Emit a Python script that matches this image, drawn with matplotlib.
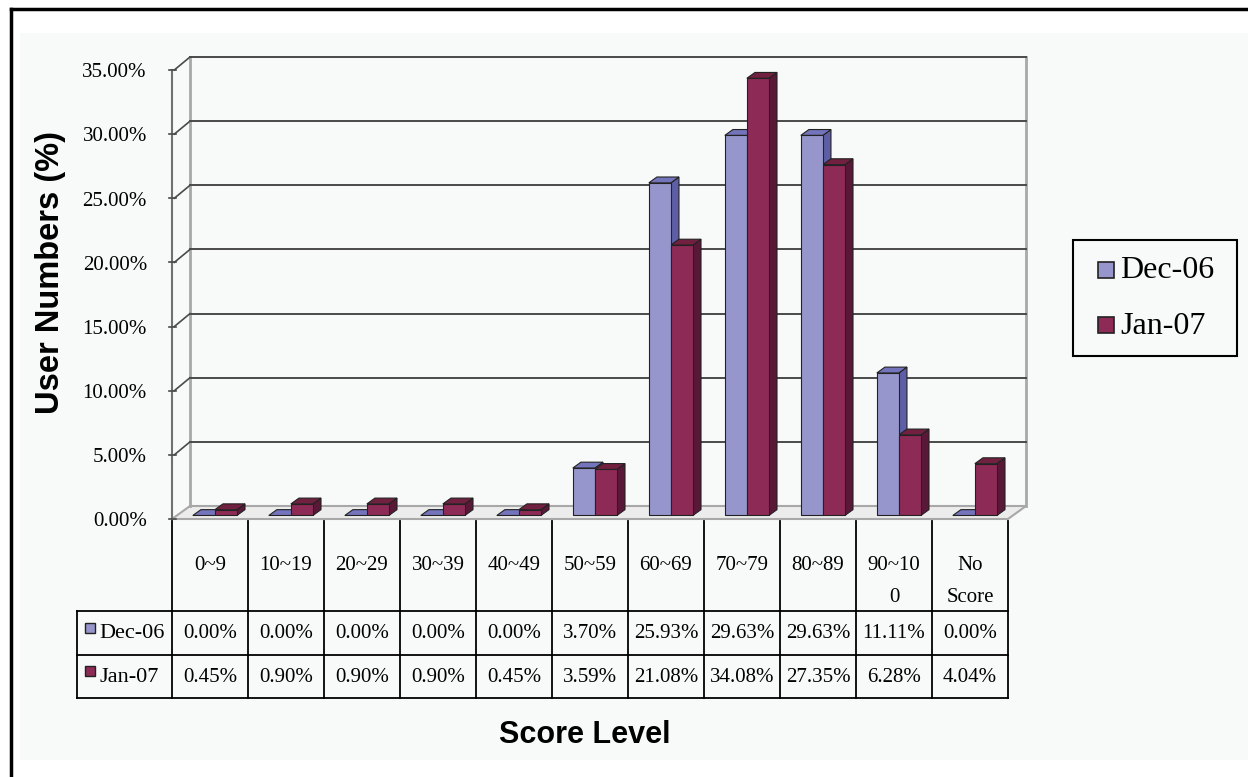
import matplotlib
matplotlib.use("Agg")
import matplotlib.pyplot as plt
from matplotlib.patches import Polygon, Rectangle
from matplotlib.lines import Line2D
from matplotlib.transforms import blended_transform_factory

# data
categories = ["0~9", "10~19", "20~29", "30~39", "40~49", "50~59",
              "60~69", "70~79", "80~89", "90~10\n0", "No\nScore"]
series_names = ["Dec-06", "Jan-07"]
dec06 = [0.00, 0.00, 0.00, 0.00, 0.00, 3.70, 25.93, 29.63, 29.63, 11.11, 0.00]
jan07 = [0.45, 0.90, 0.90, 0.90, 0.45, 3.59, 21.08, 34.08, 27.35, 6.28, 4.04]
yticks = [0, 5, 10, 15, 20, 25, 30, 35]

W, H = 1248, 777
fig = plt.figure(figsize=(W / 100, H / 100), dpi=100)
fig.patch.set_facecolor("white")


def fx(px):
    return px / W


def fy(py):
    return 1 - py / H


# backgrounds and outer border
fig.add_artist(Rectangle((fx(20), fy(760)), fx(1248) - fx(20), fy(33) - fy(760),
                         transform=fig.transFigure, facecolor="#f8f9f9",
                         edgecolor="none", zorder=0))
fig.add_artist(Line2D([fx(11), fx(11)], [fy(9), fy(790)], transform=fig.transFigure,
                      color="black", lw=2.5))
fig.add_artist(Line2D([fx(11), fx(1260)], [fy(9), fy(9)], transform=fig.transFigure,
                      color="black", lw=2.5))

# front plane of the 3d box
x0, x1, yb, yt = 172, 1008, 519, 70
ax = fig.add_axes([fx(x0), fy(yb), fx(x1) - fx(x0), fy(yt) - fy(yb)])
ax.set_xlim(0, len(categories))
ax.set_ylim(0, 35)
ax.axis("off")
ax.patch.set_alpha(0)

DX, DY = 18 / 76, 13 / (449 / 35)   # depth vector in data units
n = len(categories)
grid_c = "#4a4a4a"
edge_c = "#a8a8a8"

# floor
ax.add_patch(Polygon([(0, 0), (n, 0), (n + DX, DY), (DX, DY)], closed=True,
                     facecolor="#ececec", edgecolor=edge_c, lw=1.5, zorder=1,
                     clip_on=False))
# wall edges
ax.plot([DX, DX], [DY, 35 + DY], color=edge_c, lw=2, zorder=1, clip_on=False)
ax.plot([n + DX, n + DX], [DY, 35 + DY], color=edge_c, lw=2, zorder=1, clip_on=False)
ax.plot([0, 0], [0, 35], color="#707070", lw=1.5, zorder=1, clip_on=False)

# gridlines, left-wall diagonals, ticks and labels
for v in yticks:
    if v > 0:
        ax.plot([DX, n + DX], [v + DY, v + DY], color=grid_c, lw=1.4, zorder=1,
                clip_on=False)
        ax.plot([DX, 0.03], [v + DY, v], color=grid_c, lw=1.2, zorder=1, clip_on=False)
    ax.plot([-0.04, 0.05], [v, v], color=grid_c, lw=1.2, zorder=1, clip_on=False)
    ax.text(-0.33, v - 0.22, f"{v:.2f}%", ha="right", va="center",
            family="Liberation Serif", fontsize=15, color="black")

# bars
cols = {
    "Dec-06": ("#9696cc", "#5e5ea6", "#7474bc"),
    "Jan-07": ("#8e2a56", "#5a1838", "#72203f"),
}
bw = 0.29
d0, d1 = 0.27, 0.72
for i in range(n):
    for k, (name, vals) in enumerate(zip(series_names, [dec06, jan07])):
        front, side, top = cols[name]
        h = vals[i]
        xl = i + 0.5 - bw + k * bw + d0 * DX
        xr = xl + bw
        yb0 = d0 * DY
        ddx, ddy = (d1 - d0) * DX, (d1 - d0) * DY
        # right side face
        if h > 0:
            ax.add_patch(Polygon([(xr, yb0), (xr + ddx, yb0 + ddy), (xr + ddx, yb0 + ddy + h),
                                  (xr, yb0 + h)], closed=True, facecolor=side,
                                 edgecolor="#222222", lw=0.8, zorder=3, clip_on=False))
        # top face
        ax.add_patch(Polygon([(xl, yb0 + h), (xr, yb0 + h), (xr + ddx, yb0 + h + ddy),
                              (xl + ddx, yb0 + h + ddy)], closed=True, facecolor=top,
                             edgecolor="#222222", lw=0.8, zorder=3, clip_on=False))
        # front face
        if h > 0:
            ax.add_patch(Rectangle((xl, yb0), bw, h, facecolor=front,
                                   edgecolor="#222222", lw=0.8, zorder=4, clip_on=False))

# data table
tb = blended_transform_factory(ax.transData, fig.transFigure)
tf = fig.transFigure
r_top, r_hdr, r_mid, r_bot = fy(521), fy(611), fy(655), fy(698)
lw_t = 1.3
for i in range(n + 1):
    ax.plot([i, i], [r_top, r_bot], transform=tb, color="black", lw=lw_t, clip_on=False)
for y in [r_hdr, r_mid, r_bot]:
    fig.add_artist(Line2D([fx(77), fx(x1)], [y, y], transform=tf, color="black", lw=lw_t))
fig.add_artist(Line2D([fx(77), fx(77)], [r_hdr, r_bot], transform=tf, color="black", lw=lw_t))

for i, cat in enumerate(categories):
    lines = cat.split("\n")
    for j, s in enumerate(lines):
        ax.text(i + 0.5, fy(565 + 32 * j), s, transform=tb, ha="center", va="center",
                family="Liberation Serif", fontsize=15)
    ax.text(i + 0.5, fy(634), f"{dec06[i]:.2f}%", transform=tb, ha="center",
            va="center", family="Liberation Serif", fontsize=15)
    ax.text(i + 0.5, fy(677), f"{jan07[i]:.2f}%", transform=tb, ha="center",
            va="center", family="Liberation Serif", fontsize=15)

for name, yc in zip(series_names, [628, 671]):
    fig.add_artist(Rectangle((fx(85), fy(yc + 5)), fx(10), 10 / H, transform=tf,
                             facecolor=cols[name][0], edgecolor="#222222", lw=1))
    fig.text(fx(99), fy(yc + 6), name, ha="left", va="center",
             family="Liberation Serif", fontsize=16)

# axis titles
fig.text(fx(50), fy(272), "User Numbers (%)", rotation=90, ha="center", va="center",
         family="Liberation Sans", weight="bold", fontsize=23.5)
fig.text(fx(585), fy(735), "Score Level", ha="center", va="center",
         family="Liberation Sans", weight="bold", fontsize=22)

# legend box drawn by hand
fig.add_artist(Rectangle((fx(1073), fy(356)), fx(1237) - fx(1073), fy(240) - fy(356),
                         transform=tf, facecolor="#f8f9f9", edgecolor="black", lw=1.5))
for name, yc in zip(series_names, [270, 325]):
    fig.add_artist(Rectangle((fx(1098), fy(yc + 8)), fx(16), 16 / H, transform=tf,
                             facecolor=cols[name][0], edgecolor="#222222", lw=1.2))
    fig.text(fx(1120), fy(yc + 1), name, ha="left", va="center",
             family="Liberation Serif", fontsize=23)

fig.savefig("out.png", dpi=100)
